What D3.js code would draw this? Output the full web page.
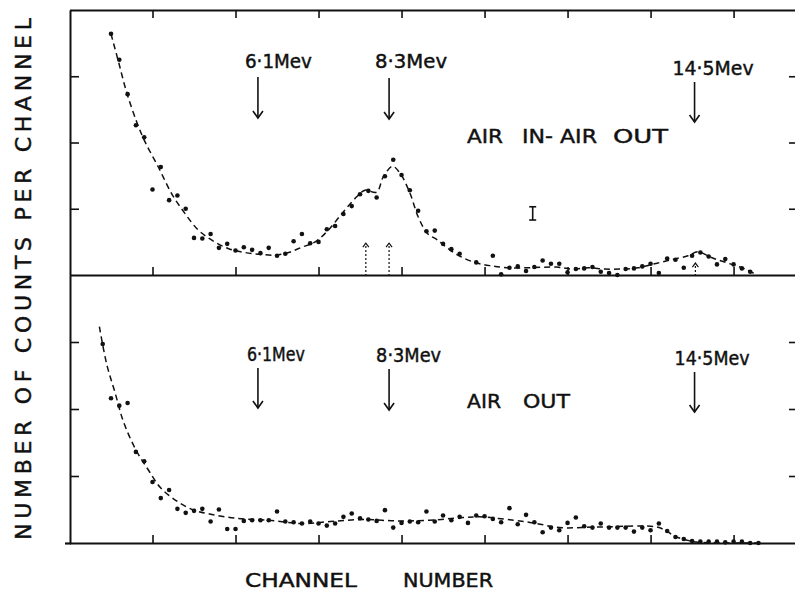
<!DOCTYPE html>
<html>
<head>
<meta charset="utf-8">
<script src="https://cdn.jsdelivr.net/npm/d3@7"></script>
<style>
  html, body { margin: 0; padding: 0; background: #fff; }
  svg { display: block; }
  text { font-family: "DejaVu Sans", sans-serif; fill: #111; stroke: #111; stroke-width: 0.45; }
</style>
</head>
<body>
<svg id="chart" width="795" height="599"></svg>
<script>
// ---- data -------------------------------------------------------------
const channelTicks = [10, 20, 30, 40, 50, 60, 70, 80];
const countTicks = [100, 200, 300];

// AIR IN - AIR OUT spectrum, one count per channel from channel 5 (null = no point)
const diffStartChannel = 5;
const diffCounts = [
  364, 325, 273, 226, 208, 129, 163, 113, 120, 100,
  56, 55, 62, 41, 47, 37, 42, 38, 33, 41,
  29, 32, 51, 62, 48, 50, 69, 74, 92, 104,
  122, 127, 117, 149, 174, 151, 128, 97, 66, 67,
  47, 39, 32, null, 19, null, 29, 1, 11, 13,
  6, 12, 22, 17, 17, 4, 9, 10, 12, 5,
  3, 0, 9, 10, 13, 17, 3, 25, 23, 11,
  29, 34, 28, 16, 24, 16, 10, 5
];
// hand-drawn fit through the AIR IN - AIR OUT points: [channel, count]
const diffFit = [
  [5.0, 364], [5.9, 322], [6.9, 275], [8.1, 231], [9.1, 201], [10.7, 163],
  [12.3, 123], [13.9, 93], [15.5, 68], [17.1, 53], [19.1, 40], [21.1, 34],
  [23.1, 31], [24.8, 30], [26.4, 34], [28.0, 42], [29.6, 50], [31.2, 68],
  [32.9, 94], [34.6, 118], [35.6, 128], [37.0, 125], [37.8, 148], [38.9, 164],
  [39.8, 154], [41.0, 124], [42.0, 88], [43.1, 63], [44.3, 53], [45.8, 38],
  [47.4, 26], [49.1, 18], [50.7, 14], [52.7, 11], [55.5, 11], [58.7, 12],
  [60.5, 9], [62.5, 11], [64.5, 9], [66.6, 9], [68.5, 11], [70.5, 17],
  [72.5, 23], [74.5, 29], [75.7, 35], [77.4, 26], [79.3, 18], [81.4, 9], [82.8, 0]
];

// AIR OUT spectrum, one count per channel from channel 4
const outStartChannel = 4;
const outCounts = [
  297, 216, 205, 209, 136, 122, 91, 67, 79, 51,
  45, 48, 51, 32, 50, 21, 21, 33, 34, 34,
  34, 47, 32, 31, 29, 32, 29, 26, 29, 39,
  44, 37, 35, 33, 49, 23, 30, 32, 31, 47,
  32, 41, 34, 39, 30, 41, 40, 36, 31, 52,
  28, 42, 31, 16, 23, 19, 30, 38, 25, 23,
  29, 23, 23, 23, 17, 23, 19, 29, 18, 9,
  6, 3, 2, 2, 2, 1, 2, 2, 0, 0
];
const outFit = [
  [3.6, 323], [4.5, 266], [5.5, 224], [6.5, 181], [8.0, 139], [9.5, 109],
  [11.0, 82], [13.0, 62], [15.0, 49], [17.0, 43], [20.0, 37], [24.0, 34],
  [28.0, 29], [31.4, 32], [35.4, 35], [39.4, 33], [43.4, 34], [47.4, 38],
  [49.4, 39], [53.5, 34], [56.3, 29], [59.0, 23], [64.1, 24], [70.7, 24],
  [71.9, 18], [72.9, 10], [74.3, 4.5], [75.5, 1.5], [83.6, 0]
];

// gamma-ray line energies and where they fall on the channel axis
const energyLabels = ["6\u00B71Mev", "8\u00B73Mev", "14\u00B75Mev"];
const energyChannels = [22.7, 38.5, 75.3];
// small dotted markers under the AIR IN - AIR OUT peaks
const markerChannels = [35.7, 38.5, 75.4];
const markerCounts = [48, 48, 18];
// typical statistical error on one point
const errorBar = { channel: 55.8, count: 93, err: 10 };

// ---- scales -----------------------------------------------------------
const ink = "#111";
const svg = d3.select("#chart");
const x = d3.scaleLinear().domain([0, 87.4]).range([69.5, 795]);
const yTop = d3.scaleLinear().domain([0, 400]).range([275, 10]);
const yBot = d3.scaleLinear().domain([0, 400]).range([543, 275]);

// ---- axes / frame -----------------------------------------------------
function styleAxis(g, domainWidth) {
  g.selectAll("path.domain").attr("stroke", ink).attr("stroke-width", domainWidth);
  g.selectAll(".tick line").attr("stroke", ink).attr("stroke-width", 1.6);
  g.selectAll(".tick text").remove();
}
const noLabel = () => "";

svg.append("g").attr("transform", "translate(0,10)")
  .call(d3.axisBottom(x).tickValues(channelTicks).tickSize(8).tickSizeOuter(0).tickFormat(noLabel))
  .call(styleAxis, 1.8);
svg.append("g").attr("transform", "translate(0,275)")
  .call(d3.axisTop(x).tickValues(channelTicks).tickSize(8).tickSizeOuter(0).tickFormat(noLabel))
  .call(styleAxis, 2);
svg.append("g").attr("transform", "translate(0,543)")
  .call(d3.axisTop(x).tickValues(channelTicks).tickSize(8).tickSizeOuter(0).tickFormat(noLabel))
  .call(styleAxis, 2.2);
svg.append("line").attr("x1", 65).attr("x2", 71).attr("y1", 543.5).attr("y2", 543.5)
  .attr("stroke", ink).attr("stroke-width", 2.2);

[yTop, yBot].forEach(y => {
  svg.append("g").attr("transform", "translate(70,0)")
    .call(d3.axisRight(y).tickValues(countTicks).tickSize(9).tickSizeOuter(0).tickFormat(noLabel))
    .call(styleAxis, 2);
  const r = svg.append("g").attr("transform", "translate(796,0)")
    .call(d3.axisLeft(y).tickValues(countTicks).tickSize(7).tickSizeOuter(0).tickFormat(noLabel))
    .call(styleAxis, 0);
  r.select("path.domain").remove();
});

// ---- spectra ----------------------------------------------------------
function drawSpectrum(y, start, counts, fit) {
  const pts = counts.map((c, i) => ({ ch: start + i, c })).filter(d => d.c !== null);
  const line = d3.line().x(d => x(d[0])).y(d => y(d[1])).curve(d3.curveCatmullRom.alpha(0.5));
  svg.append("path").datum(fit).attr("d", line)
    .attr("fill", "none").attr("stroke", ink).attr("stroke-width", 1.5)
    .attr("stroke-dasharray", "6,4");
  svg.append("g").selectAll("circle").data(pts).join("circle")
    .attr("cx", d => x(d.ch)).attr("cy", d => y(d.c)).attr("r", 2.3).attr("fill", ink);
}
drawSpectrum(yTop, diffStartChannel, diffCounts, diffFit);
drawSpectrum(yBot, outStartChannel, outCounts, outFit);

// ---- energy arrows + labels --------------------------------------------
function downArrow(cx, y0, y1) {
  const g = svg.append("g").attr("stroke", ink).attr("fill", "none").attr("stroke-width", 1.6);
  g.append("line").attr("x1", cx).attr("x2", cx).attr("y1", y0).attr("y2", y1);
  g.append("path").attr("d", `M${cx - 5},${y1 - 7}L${cx},${y1}L${cx + 5},${y1 - 7}`);
}
function energyMarks(labelY, arrowTop, arrowBottom, labelDx, labelW) {
  energyChannels.forEach((ch, i) => {
    const cx = x(ch);
    downArrow(cx, arrowTop[i], arrowBottom[i]);
    svg.append("text").attr("x", cx + labelDx[i]).attr("y", labelY[i])
      .attr("font-size", 19).attr("textLength", labelW[i]).attr("lengthAdjust", "spacingAndGlyphs")
      .text(energyLabels[i]);
  });
}
energyMarks([68, 68, 75], [77, 78, 82], [118, 119, 122], [-13, -14, -22], [67, 72, 81]);
energyMarks([361, 362, 365], [368, 369, 372], [408, 410, 412], [-11, -13, -20], [58, 65, 75]);

// dotted up-arrows under the peaks
markerChannels.forEach((ch, i) => {
  const cx = x(ch), y0 = yTop(0) + 1, y1 = yTop(markerCounts[i]);
  const g = svg.append("g").attr("stroke", ink).attr("fill", "none").attr("stroke-width", 1.2);
  g.append("line").attr("x1", cx).attr("x2", cx).attr("y1", y0).attr("y2", y1)
    .attr("stroke-dasharray", "2,2");
  g.append("path").attr("d", `M${cx - 3},${y1 + 4}L${cx},${y1}L${cx + 3},${y1 + 4}`);
});

// error bar
{
  const cx = x(errorBar.channel);
  const a = yTop(errorBar.count + errorBar.err), b = yTop(errorBar.count - errorBar.err);
  const g = svg.append("g").attr("stroke", ink).attr("stroke-width", 1.6);
  g.append("line").attr("x1", cx).attr("x2", cx).attr("y1", a).attr("y2", b);
  g.append("line").attr("x1", cx - 3.5).attr("x2", cx + 3.5).attr("y1", a).attr("y2", a);
  g.append("line").attr("x1", cx - 3.5).attr("x2", cx + 3.5).attr("y1", b).attr("y2", b);
}

// ---- panel titles -------------------------------------------------------
function words(list, y) {
  list.forEach(([w, x0, len]) => {
    svg.append("text").attr("x", x0).attr("y", y).attr("font-size", 20)
      .attr("textLength", len).attr("lengthAdjust", "spacingAndGlyphs").text(w);
  });
}
words([["AIR", 467, 36], ["IN-", 522, 31], ["AIR", 560, 37], ["OUT", 613, 55]], 143);
words([["AIR", 467, 34], ["OUT", 523, 47]], 408);

// ---- axis titles ------------------------------------------------------
svg.append("text").attr("transform", "translate(31,279) rotate(-90)")
  .attr("text-anchor", "middle").attr("font-size", 22)
  .attr("textLength", 522).attr("lengthAdjust", "spacing")
  .text("NUMBER OF COUNTS PER CHANNEL");
svg.append("text").attr("x", 245).attr("y", 587).attr("font-size", 19)
  .attr("textLength", 112).attr("lengthAdjust", "spacingAndGlyphs").text("CHANNEL");
svg.append("text").attr("x", 403).attr("y", 587).attr("font-size", 19)
  .attr("textLength", 90).attr("lengthAdjust", "spacingAndGlyphs").text("NUMBER");
</script>
</body>
</html>
